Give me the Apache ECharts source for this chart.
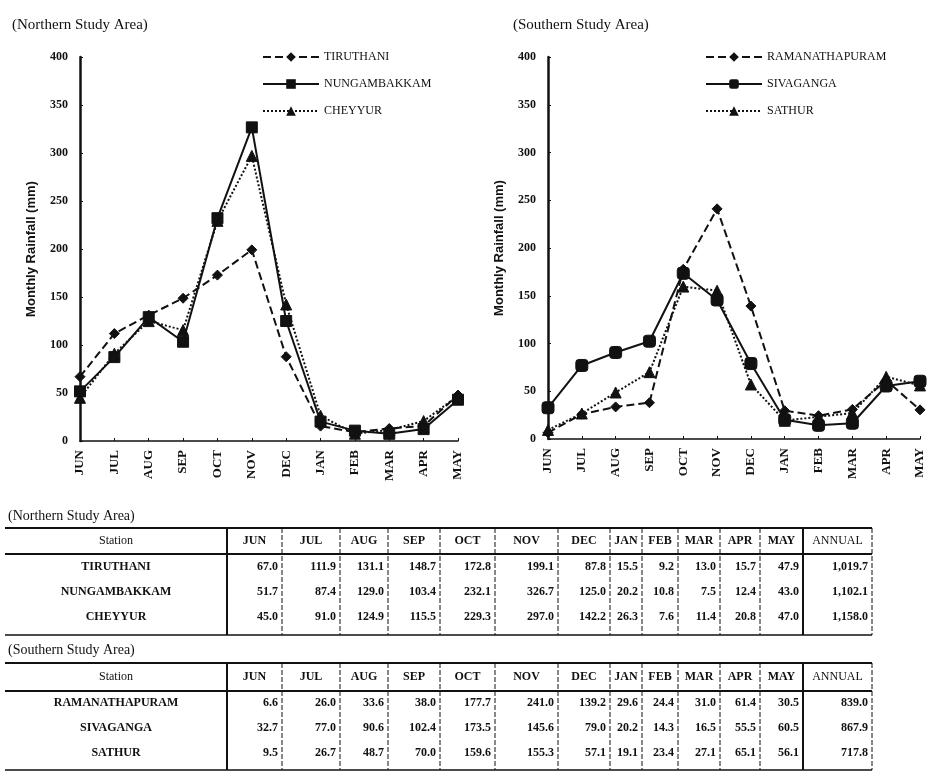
<!DOCTYPE html>
<html>
<head>
<meta charset="utf-8">
<script src="https://cdn.jsdelivr.net/npm/echarts@6/dist/echarts.min.js"></script>
<style>
    html, body { margin: 0; padding: 0; background: #fff; }
    #chart { width: 947px; height: 772px; }
</style>
</head>
<body>
<div id="chart"></div>
<script>
    // months, June to May
    const months = ['JUN', 'JUL', 'AUG', 'SEP', 'OCT', 'NOV', 'DEC', 'JAN', 'FEB', 'MAR', 'APR', 'MAY']

    // northern study area
    const northStations = ['TIRUTHANI', 'NUNGAMBAKKAM', 'CHEYYUR']
    const tiruthani = [67.0, 111.9, 131.1, 148.7, 172.8, 199.1, 87.8, 15.5, 9.2, 13.0, 15.7, 47.9]
    const nungambakkam = [51.7, 87.4, 129.0, 103.4, 232.1, 326.7, 125.0, 20.2, 10.8, 7.5, 12.4, 43.0]
    const cheyyur = [45.0, 91.0, 124.9, 115.5, 229.3, 297.0, 142.2, 26.3, 7.6, 11.4, 20.8, 47.0]
    const northAnnual = ['1,019.7', '1,102.1', '1,158.0']

    // southern study area
    const southStations = ['RAMANATHAPURAM', 'SIVAGANGA', 'SATHUR']
    const ramanathapuram = [6.6, 26.0, 33.6, 38.0, 177.7, 241.0, 139.2, 29.6, 24.4, 31.0, 61.4, 30.5]
    const sivaganga = [32.7, 77.0, 90.6, 102.4, 173.5, 145.6, 79.0, 20.2, 14.3, 16.5, 55.5, 60.5]
    const sathur = [9.5, 26.7, 48.7, 70.0, 159.6, 155.3, 57.1, 19.1, 23.4, 27.1, 65.1, 56.1]
    const southAnnual = ['839.0', '867.9', '717.8']

    // y axis ticks
    const yMin = 0
    const yMax = 400
    const yStep = 50

    const serif = '"Liberation Serif", "DejaVu Serif", serif'
    const ink = '#111'

    // table column edges: station, 12 months, annual
    const colEdges = [5, 227, 282, 340, 388, 440, 495, 558, 610, 642, 678, 720, 760, 803, 872]

    function txt(x, y, text, align, font) {
        return {
            type: 'text',
            x: x,
            y: y,
            silent: true,
            style: {
                text: text,
                fill: ink,
                font: font,
                align: align,
                textAlign: align,
                verticalAlign: 'middle',
                textVerticalAlign: 'middle'
            }
        }
    }

    function seg(x1, y1, x2, y2, w, dash) {
        return {
            type: 'line',
            silent: true,
            shape: { x1: x1, y1: y1, x2: x2, y2: y2 },
            style: { stroke: ink, lineWidth: w, lineDash: dash || null }
        }
    }

    // build one table out of graphic elements
    function buildTable(caption, names, rows, annual, pos) {
        const els = []
        const left = colEdges[0]
        const right = colEdges[colEdges.length - 1]
        els.push(txt(8, pos.cap, caption, 'left', '14px ' + serif))
        els.push(seg(left, pos.top, right, pos.top, 2))
        els.push(seg(left, pos.hline, right, pos.hline, 2))
        els.push(seg(left, pos.bottom, right, pos.bottom, 1.5))
        // header
        els.push(txt((colEdges[0] + colEdges[1]) / 2, pos.head, 'Station', 'center', '12px ' + serif))
        months.forEach((m, i) => {
            els.push(txt((colEdges[i + 1] + colEdges[i + 2]) / 2, pos.head, m, 'center', 'bold 12px ' + serif))
        })
        els.push(txt((colEdges[13] + colEdges[14]) / 2, pos.head, 'ANNUAL', 'center', '12px ' + serif))
        // vertical separators
        for (let i = 1; i < colEdges.length; i++) {
            const thick = i === 1 || i === 13
            els.push(seg(colEdges[i], pos.top, colEdges[i], pos.bottom, thick ? 2 : 1, thick ? null : [5, 2]))
        }
        // body
        names.forEach((name, r) => {
            const y = pos.rows[r]
            els.push(txt((colEdges[0] + colEdges[1]) / 2, y, name, 'center', 'bold 12px ' + serif))
            rows[r].forEach((v, i) => {
                els.push(txt(colEdges[i + 2] - 4, y, v.toFixed(1), 'right', 'bold 12px ' + serif))
            })
            els.push(txt(colEdges[14] - 4, y, annual[r], 'right', 'bold 12px ' + serif))
        })
        return els
    }

    function xAxisOf(gridIndex) {
        return {
            type: 'category',
            gridIndex: gridIndex,
            data: months,
            boundaryGap: false,
            axisLine: { show: true, onZero: false, lineStyle: { color: ink, width: 1.5 } },
            axisTick: { show: true, inside: true, length: 3, lineStyle: { color: ink } },
            axisLabel: {
                rotate: 90,
                margin: 9,
                color: ink,
                fontFamily: serif,
                fontWeight: 'bold',
                fontSize: 13
            },
            splitLine: { show: false }
        }
    }

    function yAxisOf(gridIndex) {
        return {
            type: 'value',
            gridIndex: gridIndex,
            min: yMin,
            max: yMax,
            interval: yStep,
            name: 'Monthly Rainfall (mm)',
            nameLocation: 'middle',
            nameRotate: 90,
            nameGap: 42,
            nameTextStyle: {
                color: ink,
                fontFamily: '"Liberation Sans", Arial, sans-serif',
                fontWeight: 'bold',
                fontSize: 13
            },
            axisLine: { show: true, lineStyle: { color: ink, width: 2.5 } },
            axisTick: { show: true, inside: true, length: 3, lineStyle: { color: ink } },
            axisLabel: {
                margin: 12,
                color: ink,
                fontFamily: serif,
                fontWeight: 'bold',
                fontSize: 12
            },
            splitLine: { show: false }
        }
    }

    function lineSeries(name, data, idx, dash, symbol, size) {
        return {
            name: name,
            type: 'line',
            xAxisIndex: idx,
            yAxisIndex: idx,
            data: data,
            symbol: symbol,
            symbolSize: size,
            lineStyle: { color: ink, width: 2, type: dash },
            itemStyle: { color: ink, borderColor: ink },
            z: dash === 'solid' ? 3 : 2
        }
    }

    function legendOf(names, left) {
        return {
            data: names,
            orient: 'vertical',
            left: left,
            top: 46,
            itemWidth: 56,
            itemHeight: 12,
            itemGap: 15,
            textStyle: { color: ink, fontFamily: serif, fontSize: 12 }
        }
    }

    const myChart = echarts.init(document.getElementById('chart'))

    const option = {
        backgroundColor: '#fff',
        animation: false,
        grid: [
            { left: 80, top: 57, width: 378, height: 384 },
            { left: 548, top: 57, width: 372, height: 382 }
        ],
        xAxis: [xAxisOf(0), xAxisOf(1)],
        yAxis: [yAxisOf(0), yAxisOf(1)],
        legend: [legendOf(northStations, 257), legendOf(southStations, 700)],
        series: [
            lineSeries('TIRUTHANI', tiruthani, 0, 'dashed', 'diamond', 10),
            lineSeries('NUNGAMBAKKAM', nungambakkam, 0, 'solid', 'rect', 11),
            lineSeries('CHEYYUR', cheyyur, 0, 'dotted', 'triangle', 11),
            lineSeries('RAMANATHAPURAM', ramanathapuram, 1, 'dashed', 'diamond', 10),
            lineSeries('SIVAGANGA', sivaganga, 1, 'solid', 'roundRect', 12),
            lineSeries('SATHUR', sathur, 1, 'dotted', 'triangle', 11)
        ],
        graphic: [
            txt(12, 25, '(Northern Study Area)', 'left', '15px ' + serif),
            txt(513, 25, '(Southern Study Area)', 'left', '15px ' + serif)
        ]
            .concat(buildTable('(Northern Study Area)', northStations, [tiruthani, nungambakkam, cheyyur], northAnnual,
                { cap: 516, top: 528, head: 541, hline: 554, rows: [567, 592, 617], bottom: 635 }))
            .concat(buildTable('(Southern Study Area)', southStations, [ramanathapuram, sivaganga, sathur], southAnnual,
                { cap: 650, top: 663, head: 677, hline: 691, rows: [703, 728, 753], bottom: 770 }))
    }

    myChart.setOption(option)
</script>
</body>
</html>
